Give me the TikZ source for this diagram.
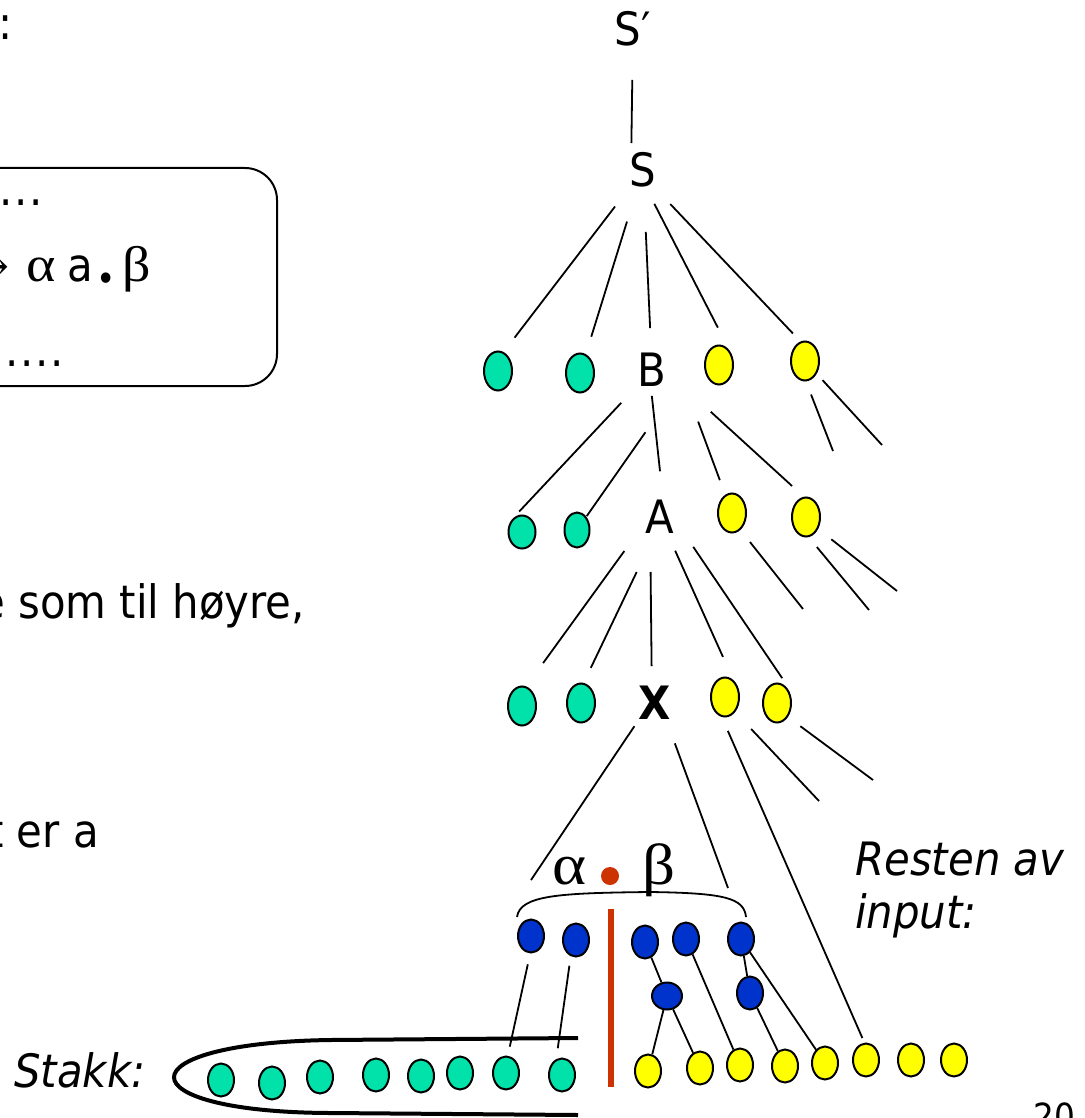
\documentclass[tikz,border=0pt]{standalone}
\usepackage{fontspec}
\setmainfont{DejaVu Sans}[FakeStretch=0.91]
\newfontfamily\greekfont{Liberation Serif}[FakeStretch=1.12]
\newfontfamily\arrowfont{DejaVu Serif}
\usetikzlibrary{shapes.geometric}
\definecolor{leafgreen}{RGB}{0,226,170}
\definecolor{leafyellow}{RGB}{255,255,0}
\definecolor{itemblue}{RGB}{0,51,204}
\definecolor{dotred}{RGB}{204,51,0}
\tikzset{
  leaf/.style={ellipse, draw, line width=2pt, minimum width=28pt, minimum height=39pt, inner sep=0pt},
  small/.style={minimum width=26pt, minimum height=33pt},
  gleaf/.style={leaf, fill=leafgreen},
  yleaf/.style={leaf, fill=leafyellow},
  bleaf/.style={leaf, small, fill=itemblue},
  twig/.style={line width=1.8pt},
}
\begin{document}
\begin{tikzpicture}[x=1pt, y=-1pt]

  \clip (0,0) rectangle (1084,1118);
  \fill[white] (0,0) rectangle (1084,1118);

  % left column, cut off
  \begin{scope}[every node/.style={font=\fontsize{46}{55}\selectfont, inner sep=0pt, anchor=base west}]
    \node (colon) at (-2,40) {:};
    \node (dotsA) at (-16,205) {.\hspace{1.7pt}.\hspace{1.7pt}.\hspace{1.7pt}.};
    \node (dotsB) at (5,366) {.\hspace{1.7pt}.\hspace{1.7pt}.\hspace{1.7pt}.};
    \node (right) at (-21,618) {e som til høyre,};
    \node (isa) at (-13,847) {t er a};
    \node (stakk) at (14,1087) {\itshape Stakk:};
    \node (rest) at (855,875) {\itshape Resten av};
    \node (input) at (855,928) {\itshape input:};
    \node[font=\fontsize{36}{40}\selectfont] (page) at (1033,1129) {20};
  \end{scope}

  \draw[line width=2pt, rounded corners=32pt] (-60,168) rectangle (277,386);
  \begin{scope}[every node/.style={font=\greekfont\fontsize{50}{56}\selectfont, inner sep=0pt, anchor=base}]
    \node[font=\arrowfont\fontsize{44}{50}\selectfont] (rarrow) at (-9,281) {→};
    \node (ralpha) at (41,281) {α};
    \node[font=\fontsize{46}{55}\selectfont] (ra) at (80,281) {a};
    \node[font=\fontsize{36}{40}\selectfont] (rdot) at (106,281) {\raisebox{-10pt}{•}};
    \node (rbeta) at (137,281) {β};
  \end{scope}

  % tree labels
  \begin{scope}[every node/.style={font=\fontsize{46}{55}\selectfont, inner sep=0pt}]
    \node (Sp) at (633,29) {S′};
    \node (S)  at (643,170) {S};
    \node (B)  at (652,370) {B};
    \node (A)  at (660,517) {A};
    \node (X)  at (655,703) {\bfseries X};
  \end{scope}

  \node[gleaf] (ga1) at (498,371) {};
  \node[gleaf] (ga2) at (580,373) {};
  \node[yleaf] (ya1) at (719,365) {};
  \node[yleaf] (ya2) at (805,361) {};
  \node[gleaf, minimum width=27pt, minimum height=33pt] (gb1) at (522,532) {};
  \node[gleaf, minimum width=25pt, minimum height=35pt] (gb2) at (577,530) {};
  \node[yleaf] (yb1) at (732,513) {};
  \node[yleaf] (yb2) at (806,517) {};
  \node[gleaf] (gc1) at (522,706) {};
  \node[gleaf] (gc2) at (581,703) {};
  \node[yleaf] (yc1) at (725,697) {};
  \node[yleaf] (yc2) at (777,703) {};

  \foreach \n/\x/\y in {1/531/936, 2/576/940, 3/645/942, 4/686/939, 5/741/939, 7/750/993}
    \node[bleaf] (b\n) at (\x,\y) {};
  \node[bleaf, minimum width=30pt, minimum height=27pt] (b6) at (667,996) {};

  \foreach \n/\x/\y in {1/221/1080, 2/272/1083, 3/320/1077, 4/376/1075, 5/421/1076, 6/460/1073, 7/506/1073, 8/562/1075}
    \node[gleaf, small] (s\n) at (\x,\y) {};
  \foreach \n/\x/\y in {1/648/1071, 2/700/1068, 3/740/1065, 4/785/1066, 5/825/1063, 6/866/1060, 7/911/1060, 8/954/1060}
    \node[yleaf, small] (in\n) at (\x,\y) {};

  % loose ends
  \coordinate (ya2e1) at (833,451);
  \coordinate (ya2e2) at (882,445);
  \coordinate (yb1e)  at (803,609);
  \coordinate (yb2e1) at (869,610);
  \coordinate (yb2e2) at (897,591);
  \coordinate (yc1e)  at (819,801);
  \coordinate (yc2e)  at (873,780);
  \coordinate (Xl)    at (531,880);
  \coordinate (Xr)    at (728,888);

  \foreach \a/\ax/\b/\bx/\s/\e in {Sp/0/S/-12/51/27,
      S/0/ga1/-9/46/42, S/0/ga2/0/54/38, S/0/B/0/62/42, S/-6/ya1/18/38/42, S/-5/ya2/14/47/38,
      B/0/gb1/-22/45/28, B/37/gb2/0/76/17, B/-3/A/5/26/46, B/27/yb1/0/55/35, B/13/yb2/20/62/46,
      A/-11/gc1/-10/42/53, A/3/gc2/-7/61/39, A/-10/X/-3/55/37, A/0/yc1/16/37/44, A/13/yc2/22/36/30,
      ya2/-7/ya2e1/0/36/0, ya2/0/ya2e2/0/26/0, yb1/-5/yb1e/0/37/0, yb2/-14/yb2e1/0/39/0, yb2/-3/yb2e2/0/36/0,
      X/-5/Xl/0/28/0, X/5/Xr/0/43/0, yc1/-4/yc1e/0/44/0, yc2/-8/yc2e/0/39/0, yc1/-12/in6/6/37/24,
      b1/3/s7/-2/29/27, b2/-3/s8/-8/26/27}
    \draw[twig, shorten <=\s pt, shorten >=\e pt] ([xshift=\ax pt]\a.center) -- ([xshift=\bx pt]\b.center);

  \foreach \a/\b in {b3/b6, b6/in1, b6/in2, b4/in3, b5/b7, b7/in4, b5/in5}
    \draw[twig] (\a) -- (\b);

  % alpha . beta over the items
  \node[font=\greekfont\fontsize{58}{64}\selectfont, inner sep=0pt, anchor=base] (alpha) at (570,884) {α};
  \node[font=\greekfont\fontsize{58}{64}\selectfont, inner sep=0pt, anchor=base] (beta) at (659,884) {β};
  \node[circle, fill=dotred, minimum size=18pt, inner sep=0pt] (dot) at (610,876) {};
  \draw[twig] (517,917) .. controls (520,895) and (560,893) .. (650,892)
              .. controls (725,893) and (744,898) .. (746,917);
  \draw[dotred, line width=6pt] (611,909) -- (611,1087);

  % the stack
  \draw[line width=4pt] (578,1038) -- (330,1040) .. controls (122,1043) and (122,1112) .. (330,1113) -- (578,1115);

\end{tikzpicture}
\end{document}
